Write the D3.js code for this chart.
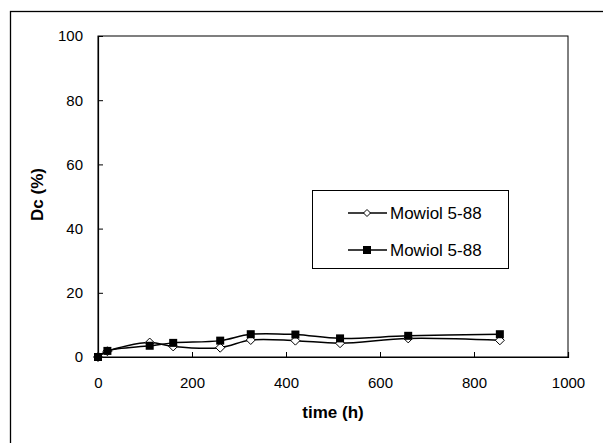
<!DOCTYPE html>
<html><head><meta charset="utf-8">
<script src="https://cdn.jsdelivr.net/npm/d3@7/dist/d3.min.js"></script>
<style>body{margin:0;background:#fff}svg{display:block}</style>
</head><body>
<script>
const times = [0, 20, 110, 160, 260, 325, 420, 515, 660, 855];
const seriesDiamond = [0, 1.8, 4.5, 3.3, 2.9, 5.3, 5.1, 4.3, 5.8, 5.2];
const seriesSquare = [0, 1.9, 3.5, 4.4, 5.1, 7.1, 7.0, 5.8, 6.6, 7.1];
const seriesNames = ["Mowiol 5-88", "Mowiol 5-88"];
const xTicks = [0, 200, 400, 600, 800, 1000];
const yTicks = [0, 20, 40, 60, 80, 100];

const W = 603, H = 443;
const svg = d3.select("body").append("svg").attr("width", W).attr("height", H);
const font = "'Liberation Sans', Arial, sans-serif";

svg.append("rect").attr("x", 10.5).attr("y", 11.5).attr("width", 620).attr("height", 460)
  .attr("fill", "none").attr("stroke", "#000").attr("stroke-width", 1.3);

const L = 98, R = 568, T = 36, B = 357;
const x = d3.scaleLinear().domain([0, 1000]).range([L, R]);
const y = d3.scaleLinear().domain([0, 100]).range([B, T]);

svg.append("rect").attr("x", L).attr("y", T).attr("width", R - L).attr("height", B - T)
  .attr("fill", "none").attr("stroke", "#000").attr("stroke-width", 1);

const xa = svg.append("g").attr("transform", `translate(0,${B})`)
  .call(d3.axisBottom(x).tickValues(xTicks).tickSize(-5).tickPadding(20).tickFormat(d3.format("d")));
const ya = svg.append("g").attr("transform", `translate(${L},0)`)
  .call(d3.axisLeft(y).tickValues(yTicks).tickSize(-5).tickPadding(15).tickFormat(d3.format("d")));
[xa, ya].forEach(a => {
  a.select(".domain").attr("stroke", "#000").attr("stroke-width", 1.2);
  a.selectAll(".tick line").attr("stroke", "#000");
  a.selectAll("text").attr("font-family", font).attr("font-size", 15).attr("fill", "#000");
});

svg.append("text").attr("x", (L + R) / 2).attr("y", 418).attr("text-anchor", "middle")
  .attr("font-family", font).attr("font-weight", "bold").attr("font-size", 17).text("time (h)");
svg.append("text").attr("transform", `translate(43,${(T + B) / 2 - 2}) rotate(-90)`).attr("text-anchor", "middle")
  .attr("font-family", font).attr("font-weight", "bold").attr("font-size", 17).text("Dc (%)");

const line = d3.line().x(d => x(d[0])).y(d => y(d[1])).curve(d3.curveCatmullRom.alpha(0.5));
const dDiamond = times.map((t, i) => [t, seriesDiamond[i]]);
const dSquare = times.map((t, i) => [t, seriesSquare[i]]);

const g = svg.append("g");
g.append("path").attr("d", line(dDiamond)).attr("fill", "none").attr("stroke", "#000").attr("stroke-width", 1.5);
g.append("path").attr("d", line(dSquare)).attr("fill", "none").attr("stroke", "#000").attr("stroke-width", 1.5);

const diamond = s => `M0,${-s}L${s},0L0,${s}L${-s},0Z`;
g.selectAll(".dm").data(dDiamond).enter().append("path")
  .attr("transform", d => `translate(${x(d[0])},${y(d[1])})`).attr("d", diamond(4.5))
  .attr("fill", "#fff").attr("stroke", "#000").attr("stroke-width", 1);
g.selectAll(".sq").data(dSquare).enter().append("rect")
  .attr("x", d => x(d[0]) - 4).attr("y", d => y(d[1]) - 4).attr("width", 8).attr("height", 8).attr("fill", "#000");

// legend
const lg = svg.append("g");
lg.append("rect").attr("x", 312.5).attr("y", 190.5).attr("width", 196).attr("height", 78)
  .attr("fill", "#fff").attr("stroke", "#000").attr("stroke-width", 1);
[0, 1].forEach(i => {
  const yy = 213 + i * 37;
  lg.append("line").attr("x1", 348).attr("x2", 387).attr("y1", yy).attr("y2", yy).attr("stroke", "#000").attr("stroke-width", 1.5);
  if (i === 0) lg.append("path").attr("transform", `translate(367,${yy})`).attr("d", diamond(3.5))
    .attr("fill", "#fff").attr("stroke", "#000");
  else lg.append("rect").attr("x", 363).attr("y", yy - 4).attr("width", 8).attr("height", 8).attr("fill", "#000");
  lg.append("text").attr("x", 390).attr("y", yy + 6).attr("font-family", font).attr("font-size", 17).text(seriesNames[i]);
});
</script>
</body></html>
